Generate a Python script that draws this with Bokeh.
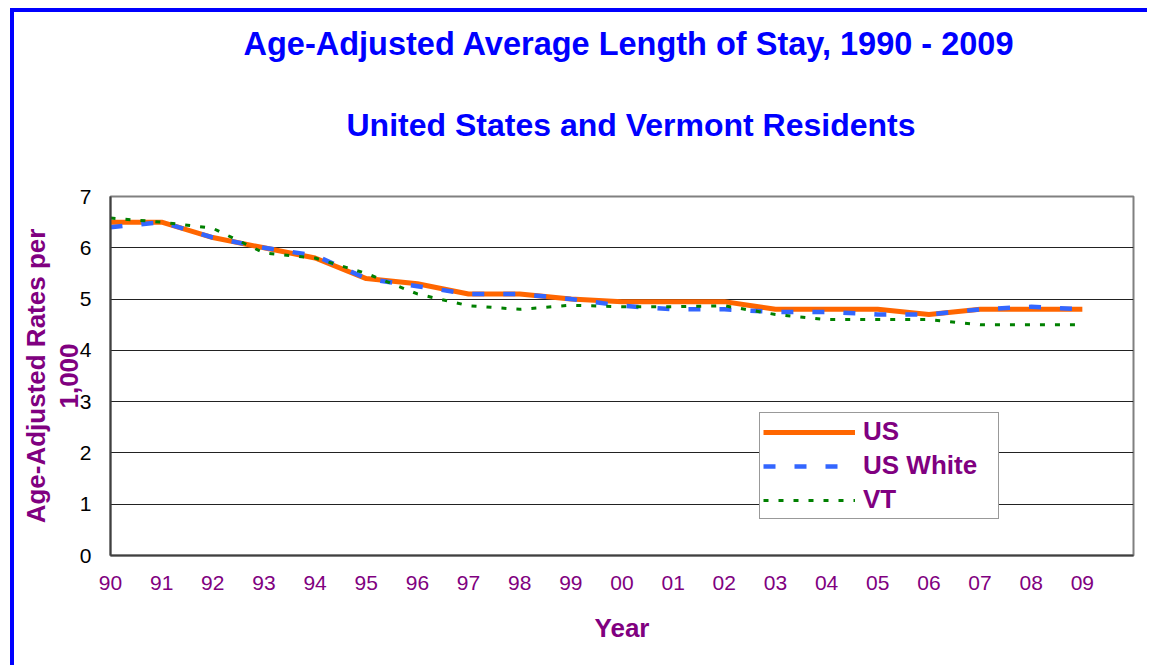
from bokeh.plotting import figure
from bokeh.models import FixedTicker, Legend, LegendItem, Title
from bokeh.embed import file_html
from bokeh.resources import INLINE

# ---- data ----
years = ["90", "91", "92", "93", "94", "95", "96", "97", "98", "99",
         "00", "01", "02", "03", "04", "05", "06", "07", "08", "09"]
us = [6.5, 6.5, 6.2, 6.0, 5.8, 5.4, 5.3, 5.1, 5.1, 5.0,
      4.95, 4.95, 4.95, 4.8, 4.8, 4.8, 4.7, 4.8, 4.8, 4.8]
us_white = [6.4, 6.5, 6.2, 6.0, 5.85, 5.4, 5.25, 5.1, 5.1, 5.0,
            4.87, 4.8, 4.8, 4.75, 4.75, 4.7, 4.7, 4.8, 4.85, 4.8]
vt = [6.58, 6.5, 6.38, 5.9, 5.8, 5.5, 5.1, 4.87, 4.8, 4.88,
      4.85, 4.85, 4.87, 4.7, 4.6, 4.6, 4.6, 4.5, 4.5, 4.5]
y_ticks = [0, 1, 2, 3, 4, 5, 6, 7]

xs = list(range(len(years)))

FONT = "Liberation Sans"
PURPLE = "#800080"
BLUE = "#0000FF"

p = figure(width=1137, height=657, output_backend="svg", toolbar_location=None,
           x_range=(0, 20), y_range=(0, 7),
           min_border_left=96, min_border_top=184,
           min_border_right=18, min_border_bottom=114)
p.styles = {"border-top": "4px solid #0000FF", "border-left": "4px solid #0000FF",
            "margin-top": "8px", "margin-left": "10px"}
p.background_fill_color = "white"
p.border_fill_color = "white"
p.outline_line_color = "#808080"
p.outline_line_width = 2

# titles (p.title is the outermost one)
p.title.text = "Age-Adjusted  Average Length of Stay, 1990 - 2009"
p.title.align = "left"
p.title.offset = 133
p.title.text_font = FONT
p.title.text_font_style = "bold"
p.title.text_font_size = "32.5px"
p.title.text_color = BLUE
p.title.standoff = -23.5
sub_title = Title(text="United States and Vermont Residents",
                  align="left", offset=236, text_font=FONT, text_font_style="bold",
                  text_font_size="32px", text_color=BLUE, standoff=107.5)
p.add_layout(sub_title, "above")

# axes
p.yaxis.ticker = FixedTicker(ticks=y_ticks)
p.xaxis.ticker = FixedTicker(ticks=xs)
p.xaxis.major_label_overrides = {i: y for i, y in enumerate(years)}
for ax in (p.xaxis[0], p.yaxis[0]):
    ax.major_tick_out = 0
    ax.major_tick_in = 0
    ax.minor_tick_out = 0
    ax.minor_tick_in = 0
    ax.axis_line_color = "#404040"
    ax.axis_line_width = 2
    ax.major_label_text_font = FONT
    ax.major_label_text_font_size = "21px"
    ax.axis_label_text_font = FONT
    ax.axis_label_text_font_style = "bold"
    ax.axis_label_text_font_size = "26px"
    ax.axis_label_text_color = PURPLE
p.yaxis.major_label_text_color = "black"
p.xaxis.major_label_text_color = PURPLE
p.yaxis.major_label_standoff = 19
p.xaxis.major_label_standoff = 20
p.yaxis.axis_label = "Age-Adjusted Rates per\n1,000"
p.yaxis.axis_label_standoff = -7
p.yaxis.axis_label_text_line_height = 1.08
p.xaxis.axis_label = "Year"
p.xaxis.axis_label_standoff = 20

p.xgrid.visible = False
p.ygrid.ticker = FixedTicker(ticks=y_ticks)
p.ygrid.grid_line_color = "#222222"
p.ygrid.grid_line_width = 1

# lines
r_us = p.line(xs, us, line_color="#FF6600", line_width=5)
r_w = p.line(xs, us_white, line_color="#3366FF", line_width=4.5, line_dash="12 19")
r_vt = p.line(xs, vt, line_color="#008000", line_width=3, line_dash="5 10")

legend = Legend(items=[LegendItem(label="US", renderers=[r_us]),
                       LegendItem(label="US White", renderers=[r_w]),
                       LegendItem(label="VT", renderers=[r_vt])],
                location=(649, 36))
legend.border_line_color = "#333333"
legend.border_line_width = 1.5
legend.background_fill_color = "white"
legend.background_fill_alpha = 1
legend.label_text_font = FONT
legend.label_text_font_style = "bold"
legend.label_text_color = PURPLE
legend.label_text_font_size = "26px"
legend.glyph_width = 92
legend.glyph_height = 20
legend.label_height = 20
legend.label_width = 132
legend.spacing = 3
legend.padding = 3
legend.margin = 0
legend.label_standoff = 8
p.add_layout(legend)

open("out.html", "w").write(file_html(p, INLINE))
